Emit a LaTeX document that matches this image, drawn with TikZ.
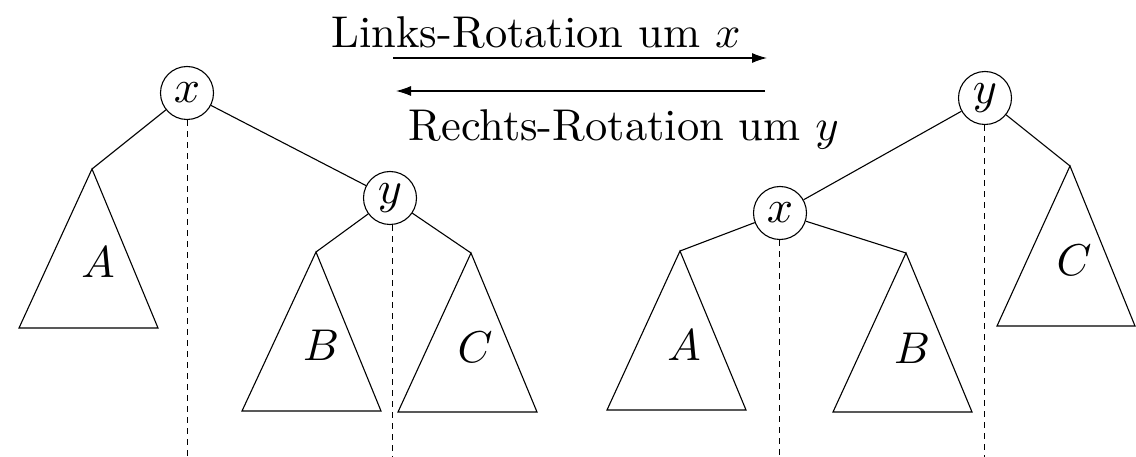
\documentclass[tikz,border=0pt]{standalone}
\usepackage{graphicx}
\usetikzlibrary{arrows.meta}
\newcommand{\bigt}[1]{\scalebox{4.45}{#1}}
\newcommand{\knt}[1]{\scalebox{4.6}{#1}}
\begin{document}
\begin{tikzpicture}[x=1pt,y=-1pt,line width=1.1pt,
  knot/.style={circle,draw,minimum size=53pt,inner sep=0pt},
  lbl/.style={inner sep=0pt},
  tri/.style={line join=miter},
  axis/.style={dash pattern=on 6pt off 5pt,line width=1pt},
  arr/.style={-{Latex[length=15pt,width=10pt]}}]
\useasboundingbox (0,0) rectangle (1136,457);
% ---------- left tree ----------
\node[knot] (xL) at (187,93) {\knt{$x$}};
\node[knot] (yL) at (390,198) {\knt{$y$}};
\coordinate (aA) at (92,169);
\coordinate (aB) at (316,252);
\coordinate (aC) at (471,253);
\draw (xL) -- (aA);
\draw (xL) -- (yL);
\draw (yL) -- (aB);
\draw (yL) -- (aC);
\draw[tri] (aA) -- (19,328) -- (158,328) -- cycle;
\draw[tri] (aB) -- (242,411) -- (381,411) -- cycle;
\draw[tri] (aC) -- (398,412) -- (537,412) -- cycle;
\node[lbl] (lA) at (98,262) {\bigt{$A$}};
\node[lbl] (lB) at (321,345) {\bigt{$B$}};
\node[lbl] (lC) at (475,347) {\bigt{$C$}};
\coordinate (eX) at (187,457);
\coordinate (eY) at (392,457);
\draw[axis] (xL.south) -- (eX);
\draw[axis] (yL.south -| eY) -- (eY);
% ---------- right tree ----------
\node[knot] (yR) at (985,98) {\knt{$y$}};
\node[knot] (xR) at (780,213) {\knt{$x$}};
\coordinate (bC) at (1070,166);
\coordinate (bA) at (680,251);
\coordinate (bB) at (906,253);
\draw (yR) -- (xR);
\draw (yR) -- (bC);
\draw (xR) -- (bA);
\draw (xR) -- (bB);
\draw[tri] (bC) -- (997,326) -- (1135,326) -- cycle;
\draw[tri] (bA) -- (607,410) -- (746,410) -- cycle;
\draw[tri] (bB) -- (833,412) -- (972,412) -- cycle;
\node[lbl] (rA) at (684,345) {\bigt{$A$}};
\node[lbl] (rB) at (912,348) {\bigt{$B$}};
\node[lbl] (rC) at (1074,260) {\bigt{$C$}};
\coordinate (fX) at (779,457);
\coordinate (fY) at (984,457);
\draw[axis] (xR.south -| fX) -- (fX);
\draw[axis] (yR.south -| fY) -- (fY);
% ---------- rotation arrows ----------
\coordinate (t1) at (393,58);
\coordinate (t2) at (767,58);
\coordinate (u1) at (765,91);
\coordinate (u2) at (396,91);
\draw[arr] (t1) -- (t2);
\draw[arr] (u1) -- (u2);
\node[lbl,anchor=base west] (tl) at (331,48) {\bigt{Links-Rotation um $x$}};
\node[lbl,anchor=base west] (tr) at (408,141) {\bigt{Rechts-Rotation um $y$}};
\end{tikzpicture}
\end{document}
